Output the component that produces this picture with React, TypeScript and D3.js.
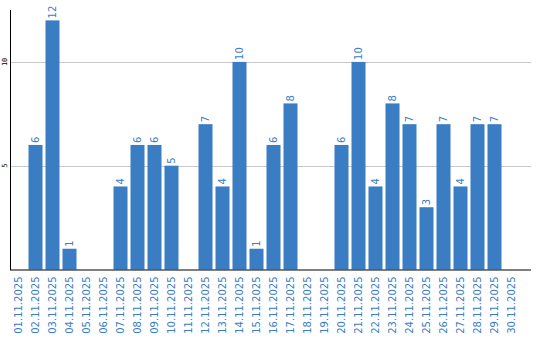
import React from "react";
import * as d3 from "d3";

const dates = [
  "01.11.2025","02.11.2025","03.11.2025","04.11.2025","05.11.2025","06.11.2025",
  "07.11.2025","08.11.2025","09.11.2025","10.11.2025","11.11.2025","12.11.2025",
  "13.11.2025","14.11.2025","15.11.2025","16.11.2025","17.11.2025","18.11.2025",
  "19.11.2025","20.11.2025","21.11.2025","22.11.2025","23.11.2025","24.11.2025",
  "25.11.2025","26.11.2025","27.11.2025","28.11.2025","29.11.2025","30.11.2025",
];
const values = [0,6,12,1,0,0,4,6,6,5,0,7,4,10,1,6,8,0,0,6,10,4,8,7,3,7,4,7,7,0];
const yTicks = [5, 10];

const W = 540, H = 340;
const left = 10, bottom = 269.5, top = 10, right = 531;
const BLUE = "#3b7dc3";

export default function App() {
  const x = d3.scaleBand<string>().domain(dates).range([left, left + 17 * 30]).paddingInner(0.176).paddingOuter(0.088);
  const y = d3.scaleLinear().domain([0, 12.5]).range([bottom, top]);
  const bw = x.bandwidth();
  return (
    <svg width={W} height={H} style={{ position: "absolute", left: 0, top: 0 }}>
      <rect width={W} height={H} fill="#fff" />
      {yTicks.map((t) => (
        <g key={t}>
          <line x1={left} x2={right} y1={Math.round(y(t)) + 0.5} y2={Math.round(y(t)) + 0.5} stroke="#c8c8c8" />
          <text
            transform={`translate(5,${y(t)}) rotate(-90)`}
            textAnchor="middle"
            dominantBaseline="central"
            fontFamily="DejaVu Sans Mono"
            fontSize={7}
            fill="#000"
          >
            {t}
          </text>
        </g>
      ))}
      {dates.map((d, i) => {
        const v = values[i];
        const cx = (x(d) as number) + bw / 2;
        return (
          <g key={d}>
            {v > 0 && (
              <rect x={x(d)} y={y(v)} width={bw} height={bottom - y(v)} fill={BLUE} />
            )}
            {v > 0 && (
              <text
                transform={`translate(${cx},${y(v) - 2}) rotate(-90)`}
                textAnchor="start"
                dominantBaseline="central"
                fontFamily="DejaVu Sans"
                fontSize={10}
                fill={BLUE}
              >
                {v}
              </text>
            )}
            <text
              transform={`translate(${cx - 0.5},${bottom + 7}) rotate(-90)`}
              textAnchor="end"
              dominantBaseline="central"
              fontFamily="DejaVu Sans"
              fontSize={10}
              fill={BLUE}
            >
              {d}
            </text>
          </g>
        );
      })}
      <line x1={left + 0.5} x2={left + 0.5} y1={top} y2={bottom + 0.5} stroke="#000" />
      <line x1={left} x2={right} y1={bottom + 0.5} y2={bottom + 0.5} stroke="#000" />
    </svg>
  );
}
